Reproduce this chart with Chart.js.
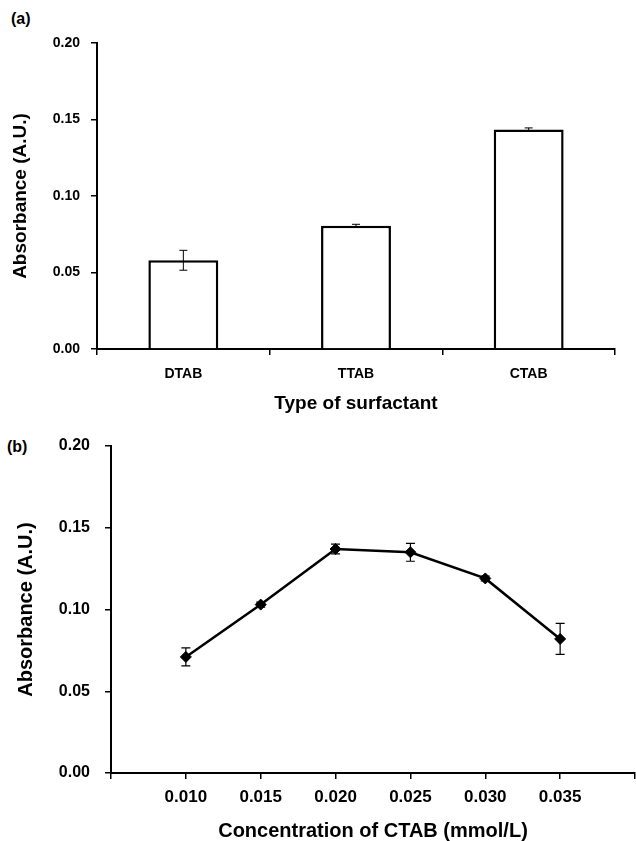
<!DOCTYPE html>
<html>
<head>
<meta charset="utf-8">
<script src="https://cdn.jsdelivr.net/npm/chart.js@4"></script>
<style>
  html, body { margin: 0; padding: 0; background: #fff; }
  body { width: 636px; height: 841px; position: relative; overflow: hidden; font-family: "Liberation Sans", Arial, sans-serif; }
  .panel { position: absolute; font-weight: bold; font-size: 16px; color: #000; line-height: 1; }
  canvas { position: absolute; left: 0; }
</style>
</head>
<body>
<div class="panel" style="left:11px; top:11px;">(a)</div>
<div class="panel" style="left:7px; top:439px;">(b)</div>
<canvas id="chartA" width="636" height="413" style="top:0px;"></canvas>
<canvas id="chartB" width="636" height="416" style="top:425px;"></canvas>
<script>
// ---- data ----
const surfactants = ['DTAB', 'TTAB', 'CTAB'];
const absSurfactant = [0.058, 0.0805, 0.1435];
const errSurfactant = [0.0065, 0.001, 0.001];

const concCTAB = [0.010, 0.015, 0.020, 0.025, 0.030, 0.035];
const absConc = [0.071, 0.103, 0.137, 0.135, 0.119, 0.082];
const errConc = [0.0055, 0.0015, 0.003, 0.0055, 0.0015, 0.0095];

const yTickValues = [0, 0.05, 0.10, 0.15, 0.20];
const xTickLabelsB = ['0.010', '0.015', '0.020', '0.025', '0.030', '0.035'];

const FONT = '"Liberation Sans", Arial, sans-serif';

// error bar plugin: uses library scales to position bars
const errorBars = {
  id: 'errorBars',
  afterDatasetsDraw(chart, args, opts) {
    const ctx = chart.ctx;
    const yScale = chart.scales.y;
    chart.data.datasets.forEach((ds, di) => {
      const meta = chart.getDatasetMeta(di);
      const errs = ds.errors || [];
      meta.data.forEach((el, i) => {
        const v = ds.data[i];
        const val = (typeof v === 'object') ? v.y : v;
        const e = errs[i];
        if (e == null) return;
        const x = el.x;
        const yTop = yScale.getPixelForValue(val + e);
        const yBot = yScale.getPixelForValue(val - e);
        const cap = opts.cap || 4;
        ctx.save();
        ctx.strokeStyle = '#000';
        ctx.lineWidth = opts.width || 1;
        ctx.beginPath();
        ctx.moveTo(x, yTop); ctx.lineTo(x, yBot);
        ctx.moveTo(x - cap, yTop); ctx.lineTo(x + cap, yTop);
        ctx.moveTo(x - cap, yBot); ctx.lineTo(x + cap, yBot);
        ctx.stroke();
        ctx.restore();
      });
    });
  }
};

function yAxis(width, tickPad, titlePad, titleSize, tickSize) {
  return {
    min: 0, max: 0.2,
    afterBuildTicks: s => { s.ticks = yTickValues.map(v => ({ value: v })); },
    afterFit: s => { s.width = width; s.paddingTop = 0; s.paddingBottom = 0; },
    border: { display: true, color: '#000', width: 2 },
    grid: { drawOnChartArea: false, drawTicks: true, tickLength: 6, color: '#000', lineWidth: 1.5 },
    ticks: {
      padding: tickPad, color: '#000',
      font: { family: FONT, size: tickSize, weight: 'bold' },
      callback: v => Number(v).toFixed(2)
    },
    title: {
      display: true, text: 'Absorbance (A.U.)', color: '#000',
      font: { family: FONT, size: titleSize, weight: 'bold', lineHeight: 1 },
      padding: { top: titlePad, bottom: 0 }
    }
  };
}

new Chart(document.getElementById('chartA'), {
  type: 'bar',
  data: {
    labels: surfactants,
    datasets: [{
      data: absSurfactant,
      errors: errSurfactant,
      backgroundColor: '#fff',
      borderColor: '#000',
      borderWidth: 2.5,
      borderSkipped: 'bottom',
      categoryPercentage: 1,
      barPercentage: 0.405
    }]
  },
  options: {
    responsive: false, animation: false, devicePixelRatio: 1,
    layout: { autoPadding: false, padding: { top: 43, right: 21, left: 0, bottom: 0 } },
    plugins: { legend: { display: false }, tooltip: { enabled: false }, errorBars: { cap: 4, width: 1 } },
    scales: {
      x: {
        afterFit: s => { s.height = 64; s.paddingLeft = 0; s.paddingRight = 0; },
        border: { display: true, color: '#000', width: 2 },
        grid: { drawOnChartArea: false, drawTicks: true, tickLength: 6, color: '#000', lineWidth: 1.5, offset: true },
        ticks: { padding: 11, color: '#000', font: { family: FONT, size: 14, weight: 'bold' } },
        title: {
          display: true, text: 'Type of surfactant', color: '#000',
          font: { family: FONT, size: 19, weight: 'bold', lineHeight: 1 },
          padding: { top: 0, bottom: 0 }
        }
      },
      y: yAxis(97, 11, 11, 19, 14)
    }
  },
  plugins: [errorBars]
});

new Chart(document.getElementById('chartB'), {
  type: 'line',
  data: {
    datasets: [{
      data: concCTAB.map((c, i) => ({ x: c, y: absConc[i] })),
      errors: errConc,
      borderColor: '#000',
      backgroundColor: '#000',
      borderWidth: 2.5,
      pointStyle: 'rectRot',
      pointRadius: 5.5,
      pointBorderWidth: 1,
      tension: 0
    }]
  },
  options: {
    responsive: false, animation: false, devicePixelRatio: 1,
    layout: { autoPadding: false, padding: { top: 21, right: 1, left: 0, bottom: 0 } },
    plugins: { legend: { display: false }, tooltip: { enabled: false }, errorBars: { cap: 4.5, width: 1.2 } },
    scales: {
      x: {
        type: 'linear', min: 0.005, max: 0.040,
        afterBuildTicks: s => {
          const vals = [0.005].concat(concCTAB, [0.040]);
          s.ticks = vals.map(v => ({ value: v }));
        },
        afterFit: s => { s.height = 68; s.paddingLeft = 0; s.paddingRight = 0; },
        border: { display: true, color: '#000', width: 2 },
        grid: { drawOnChartArea: false, drawTicks: true, tickLength: 6, color: '#000', lineWidth: 1.5 },
        ticks: {
          padding: 8, color: '#000', maxRotation: 0, autoSkip: false,
          font: { family: FONT, size: 17, weight: 'bold' },
          callback: (v, i) => (i >= 1 && i <= xTickLabelsB.length) ? xTickLabelsB[i - 1] : ''
        },
        title: {
          display: true, text: 'Concentration of CTAB (mmol/L)', color: '#000',
          font: { family: FONT, size: 20, weight: 'bold', lineHeight: 1 },
          padding: { top: 0, bottom: 0 }
        }
      },
      y: yAxis(111, 15, 16, 20, 16)
    }
  },
  plugins: [errorBars]
});
</script>
</body>
</html>
